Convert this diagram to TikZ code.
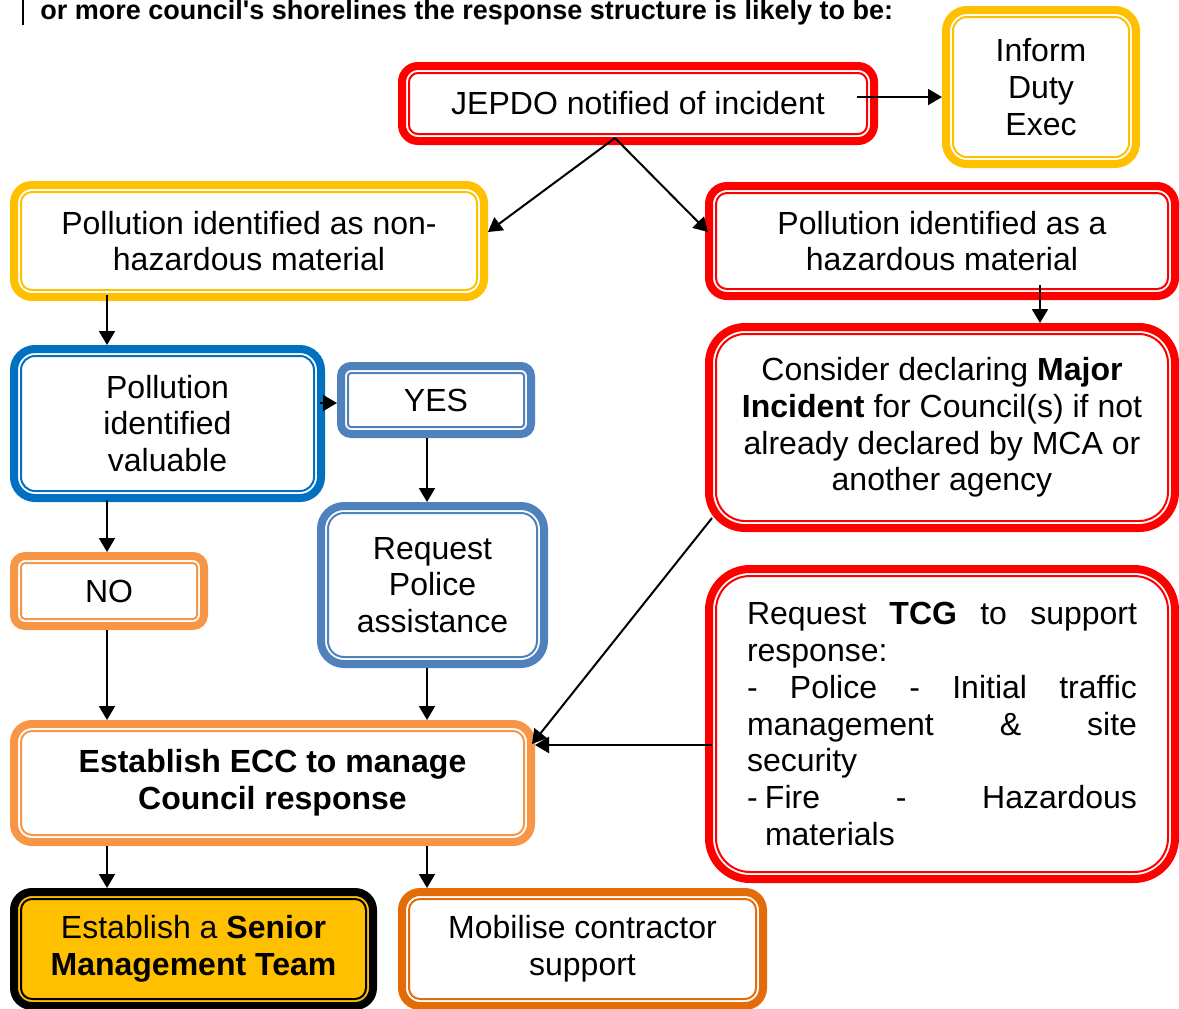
\documentclass[tikz,border=0pt]{standalone}
\usepackage{fontspec}
\setmainfont{Liberation Sans}[Ligatures=TeXOff]
\usetikzlibrary{arrows.meta,calc}

\definecolor{cRed}{HTML}{FF0000}
\definecolor{cGold}{HTML}{FFC000}
\definecolor{cBlue}{HTML}{0070C0}
\definecolor{cSteel}{HTML}{4F81BD}
\definecolor{cOrange}{HTML}{F79646}
\definecolor{cRust}{HTML}{E36C09}

% one justified line of the given width
\newcommand\jline[1]{\leavevmode\hbox to 195pt{#1}}

\tikzset{
  % thick-thin framed box: colour, outer width, outer height, outer corner radius (px)
  flowbox/.style n args={4}{
    draw=#1, line width=4pt, rounded corners=#4*0.5pt-2pt,
    inner sep=0pt, align=center,
    minimum width=#2*0.5pt-4pt, minimum height=#3*0.5pt-4pt,
    font=\fontsize{16pt}{18.4pt}\selectfont,
    path picture={\draw[#1, line width=1pt, rounded corners=#4*0.5pt-5.5pt]
      ([shift={(3.5pt,3.5pt)}]path picture bounding box.south west) rectangle
      ([shift={(-3.5pt,-3.5pt)}]path picture bounding box.north east);}},
  arr/.style={draw=black, line width=1pt, -{Triangle[length=7pt,width=8pt]}},
  heading/.style={anchor=base west, inner sep=0pt,
    font=\bfseries\fontsize{13.5pt}{15pt}\selectfont},
}

\begin{document}
\begin{tikzpicture}[x=0.5pt, y=-0.5pt]
\useasboundingbox (0,0) rectangle (1179,1008);
\clip (0,0) rectangle (1179,1008);

% change bar and heading line
\draw[line width=0.8pt] (23,0) -- (23,25);
\node[heading] (title) at (40,19) {or more council's shorelines the response structure is likely to be:};

% boxes
\node[flowbox={cRed}{480}{83}{20}] (jepdo) at (638,103.5) {JEPDO notified of incident};
\node[flowbox={cGold}{198}{162}{25}] (inform) at (1041,87) {Inform\\Duty\\Exec};
\node[flowbox={cGold}{478}{120}{22}] (nonhaz) at (249,241) {Pollution identified as non-\\hazardous material};
\node[flowbox={cRed}{474}{118}{22}] (haz) at (942,241) {Pollution identified as a\\hazardous material};
\node[flowbox={cBlue}{315}{157}{25}] (valuable) at (167.5,423.5) {Pollution\\identified\\valuable};
\node[flowbox={cSteel}{198}{76}{14}] (yes) at (436,400) {YES};
\node[flowbox={cRed}{474}{209}{40}] (major) at (942,427.5)
  {Consider declaring \textbf{Major}\\\textbf{Incident} for Council(s) if not\\already declared by MCA or\\another agency};
\node[flowbox={cOrange}{198}{78}{15}] (no) at (109,591) {NO};
\node[flowbox={cSteel}{231}{166}{27}] (police) at (432.5,585) {Request\\Police\\assistance};
\node[flowbox={cRed}{474}{318}{45}, align=left, text width=195pt] (tcg) at (942,724)
  {\jline{Request\hfill\textbf{TCG}\hfill to\hfill support}\\
   response:\\
   \jline{-\hfill Police\hfill -\hfill Initial\hfill traffic}\\
   \jline{management\hfill\&\hfill site}\\
   security\\
   \jline{\makebox[9pt][l]{-}Fire\hfill -\hfill Hazardous}\\
   \hspace*{9pt}materials};
\node[flowbox={cOrange}{525}{126}{22}, font=\bfseries\fontsize{16pt}{18.4pt}\selectfont] (ecc) at (272.5,783)
  {Establish ECC to manage\\Council response};
\node[flowbox={black}{367}{122}{22}, fill=cGold] (smt) at (193.5,949)
  {Establish a \textbf{Senior}\\\textbf{Management Team}};
\node[flowbox={cRust}{369}{122}{22}] (mob) at (582.5,949) {Mobilise contractor\\support};

% columns for vertical connectors
\coordinate (colA) at (107,0);
\coordinate (colB) at (427,0);
\coordinate (colD) at (1040,0);
\coordinate (fork) at ($(jepdo.south)+(-23,-7)$);

% connectors
\draw[arr] ($(jepdo.east)+(-21,-6.5)$) coordinate (jx) -- (jx -| inform.west);
\draw[arr] (fork) -- ($(nonhaz.east)+(0,-9)$);
\draw[arr] (fork) -- ($(haz.west)+(3,-9)$);
\draw[arr] ($(haz.south -| colD)+(0,-15)$) -- (major.north -| colD);
\draw[arr] ($(nonhaz.south -| colA)+(0,-6)$) -- (valuable.north -| colA);
\draw[arr] ($(valuable.east)+(-5,-20.5)$) coordinate (vx) -- (vx -| yes.west);
\draw[arr] ($(valuable.south -| colA)+(0,-2)$) -- (no.north -| colA);
\draw[arr] (yes.south -| colB) -- (police.north -| colB);
\draw[arr] (no.south -| colA) -- (ecc.north -| colA);
\draw[arr] (police.south -| colB) -- (ecc.north -| colB);
\draw[arr] ($(major.south west)+(7,-14)$) -- ($(ecc.east)+(-3,-39)$);
\draw[arr] ($(tcg.west)+(7,21)$) coordinate (tx) -- (tx -| ecc.east);
\draw[arr] (ecc.south -| colA) -- (smt.north -| colA);
\draw[arr] (ecc.south -| colB) -- (mob.north -| colB);
\end{tikzpicture}
\end{document}
